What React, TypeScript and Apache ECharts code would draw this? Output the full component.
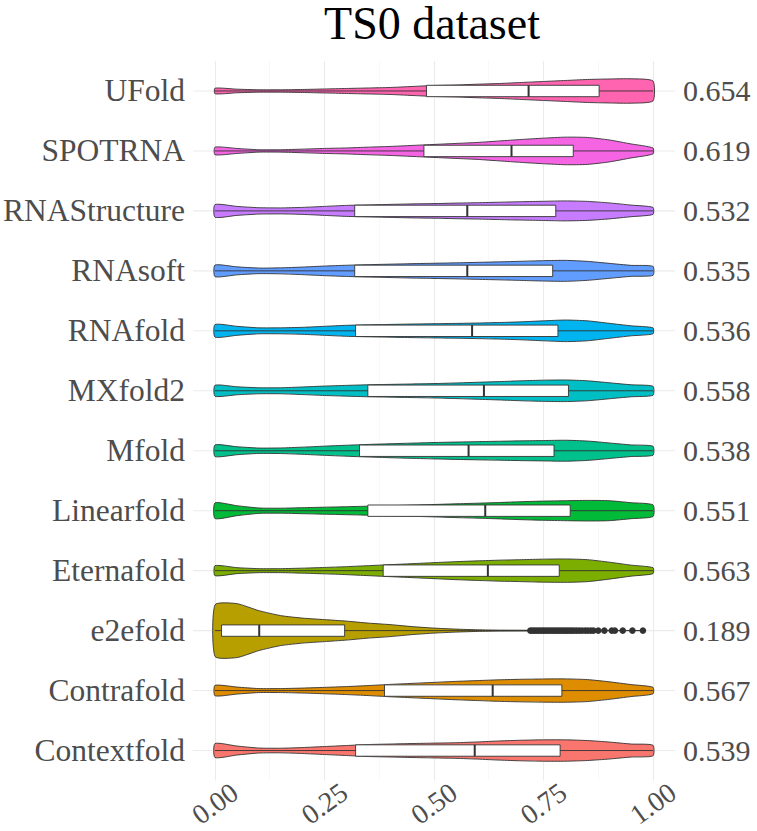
import React, { useEffect, useRef } from 'react';
import * as echarts from 'echarts';

// bottom-to-top order on the category axis
const categories = ['Contextfold', 'Contrafold', 'e2efold', 'Eternafold', 'Linearfold', 'Mfold', 'MXfold2', 'RNAfold', 'RNAsoft', 'RNAStructure', 'SPOTRNA', 'UFold'];
const meanScores = [0.539, 0.567, 0.189, 0.563, 0.551, 0.538, 0.558, 0.536, 0.535, 0.532, 0.619, 0.654];
const colors = ['#F8766D', '#DE8C00', '#B79F00', '#7CAE00', '#00BA38', '#00C08B', '#00BFC4', '#00B4F0', '#619CFF', '#C77CFF', '#F564E3', '#FF64B0'];

const q1 = [0.321, 0.387, 0.015, 0.384, 0.349, 0.330, 0.349, 0.321, 0.319, 0.319, 0.477, 0.483];
const median = [0.593, 0.634, 0.101, 0.623, 0.617, 0.579, 0.614, 0.587, 0.576, 0.576, 0.677, 0.716];
const q3 = [0.788, 0.792, 0.296, 0.786, 0.811, 0.774, 0.807, 0.783, 0.771, 0.778, 0.818, 0.877];
const whiskerLow = [0, 0, 0, 0, 0, 0, 0, 0, 0, 0, 0, 0];
const whiskerHigh = [1, 1, 0.718, 1, 1, 1, 1, 1, 1, 1, 1, 1];
const dataMin = [0, 0, 0, 0, 0, 0, 0, 0, 0, 0, 0, 0];
const dataMax = [1, 1, 0.977, 1, 1, 1, 1, 1, 1, 1, 1, 1];

// relative density (violin half-width) sampled at densityX
const densityX = [0, 0.05, 0.1, 0.15, 0.2, 0.25, 0.3, 0.35, 0.4, 0.45, 0.5, 0.55, 0.6, 0.65, 0.7, 0.75, 0.8, 0.85, 0.9, 0.95, 1.0];
const densContextfold = [7, 4.5, 2.5, 2.3, 3, 4, 5, 6, 6.5, 7, 7.4, 7.8, 8.6, 9.6, 10.3, 10.7, 10.7, 10, 8.5, 6.5, 5.3];
const densContrafold = [5.2, 3.5, 2, 2, 2.5, 3.2, 4, 5, 6.2, 7.2, 8.2, 9.2, 10, 10.8, 11.3, 11.6, 11.7, 11, 8.8, 6, 3.3];
const densE2efold = [25.8, 27, 20, 15, 12.5, 11, 9.5, 7.5, 6, 4, 2.5, 1.5, 0.8, 0.5, 0.4, 0.3, 0.3, 0.2, 0.2, 0.1, 0.1];
const densEternafold = [5, 3, 2, 2, 2.5, 3.2, 4, 5, 6, 7, 8, 9, 9.8, 10.5, 11, 11.5, 11.7, 11, 8.5, 5.5, 3];
const densLinearfold = [7.8, 5, 2.7, 2.5, 3, 3.5, 4, 4.5, 5, 5.6, 6.2, 6.9, 7.5, 8.2, 9, 9.6, 10, 10.3, 10, 8, 5.8];
const densMfold = [5.8, 4, 2.7, 2.8, 3.6, 4.6, 5.5, 6.3, 7, 7.6, 8.2, 8.7, 9.1, 9.5, 9.9, 10.2, 10.5, 9.7, 7.8, 5.8, 4.5];
const densMXfold2 = [5.5, 4, 3, 3, 3.8, 4.7, 5.4, 6, 6.4, 6.8, 7.2, 7.8, 8.5, 9.2, 10, 10.6, 10.8, 10, 8, 6, 4.5];
const densRNAfold = [6.3, 4.5, 3, 3, 3.5, 4.5, 5.5, 6, 6.4, 6.8, 7.1, 7.4, 7.8, 8.3, 9, 10, 10.8, 10, 7.5, 5, 3];
const densRNAsoft = [5.8, 4, 2.8, 3, 3.8, 4.8, 5.6, 6.2, 6.7, 7.2, 7.6, 8, 8.5, 9, 9.6, 10.2, 10.5, 9.5, 7.5, 5.5, 4.5];
const densRNAStructure = [6.3, 4.5, 3.2, 3, 3.5, 4.5, 5.5, 6, 6.5, 7, 7.3, 7.8, 8.2, 8.7, 9.2, 9.6, 10, 9.5, 8, 5.8, 3.5];
const densSPOTRNA = [3.8, 2.5, 1.2, 1.2, 1.8, 2.5, 3, 3.8, 4.5, 5.5, 6.5, 7.5, 8.5, 10, 11.5, 12.8, 13.8, 13.5, 11, 7, 3];
const densUFold = [2.8, 1.8, 1.2, 1.2, 1.5, 2, 2.5, 3, 3.5, 4.5, 5.5, 6, 6.8, 7.5, 8.5, 9.5, 10.5, 11.5, 12, 12.2, 10];
const densities = [densContextfold, densContrafold, densE2efold, densEternafold, densLinearfold, densMfold, densMXfold2, densRNAfold, densRNAsoft, densRNAStructure, densSPOTRNA, densUFold];

const e2efoldOutliers = [0.72, 0.725, 0.73, 0.735, 0.74, 0.745, 0.75, 0.755, 0.76, 0.765, 0.77, 0.775, 0.78, 0.785, 0.79, 0.795, 0.8, 0.805, 0.81, 0.815, 0.82, 0.826, 0.832, 0.838, 0.845, 0.851, 0.858, 0.864, 0.875, 0.889, 0.906, 0.913, 0.931, 0.953, 0.977];
const outlierCategory = 2;

const panelRange = [-0.05, 1.05];

const SERIF = 'Liberation Serif';
const OUTLINE = '#333333';

export default function App() {
  const ref = useRef<HTMLDivElement>(null);
  useEffect(() => {
    if (!ref.current) return;
    const chart = echarts.init(ref.current, null, { renderer: 'svg' });
    let maxDensity = 0;
    densities.forEach((d) => d.forEach((v) => { if (v > maxDensity) maxDensity = v; }));

    const option: any = {
      animation: false,
      backgroundColor: '#ffffff',
      textStyle: { fontFamily: SERIF },
      title: {
        text: 'TS0 dataset',
        left: 432,
        textAlign: 'center',
        top: 0,
        padding: 0,
        textStyle: { fontFamily: SERIF, fontSize: 46, fontWeight: 'normal', color: '#000000' },
      },
      grid: { left: 214, right: 104, top: 61, height: 727, containLabel: false },
      xAxis: {
        type: 'value',
        min: 0,
        max: 1,
        interval: 0.25,
        axisLine: { show: false },
        axisTick: { show: false },
        splitLine: { show: true, lineStyle: { color: '#ebebeb', width: 1.1 } },
        minorTick: { show: false, splitNumber: 2 },
        minorSplitLine: { show: true, lineStyle: { color: '#f3f3f3', width: 0.6 } },
        axisLabel: {
          formatter: (v: number) => v.toFixed(2),
          rotate: 36,
          align: 'center',
          verticalAlign: 'middle',
          margin: 23,
          fontFamily: SERIF,
          fontSize: 28,
          color: '#4d4d4d',
        },
      },
      yAxis: [
        {
          type: 'category',
          data: categories,
          axisLine: { show: false },
          axisTick: { show: false },
          splitLine: { show: false },
          axisLabel: { fontFamily: SERIF, fontSize: 31.5, color: '#4d4d4d', margin: 30 },
        },
        {
          type: 'category',
          position: 'right',
          data: meanScores.map((v) => v.toFixed(3)),
          axisLine: { show: false },
          axisTick: { show: false },
          splitLine: { show: false },
          axisLabel: { fontFamily: SERIF, fontSize: 30, color: '#4d4d4d', margin: 30 },
        },
      ],
      series: [
        {
          type: 'custom',
          name: 'grid',
          clip: false,
          silent: true,
          z: 1,
          encode: { x: 0, y: 1 },
          data: categories.map((c, i) => [0.5, i]),
          renderItem: (params: any, api: any) => {
            const i = api.value(1);
            const a = api.coord([panelRange[0], i]);
            const b = api.coord([panelRange[1], i]);
            return {
              type: 'line',
              shape: { x1: a[0], y1: a[1], x2: b[0], y2: b[1] },
              style: { stroke: '#ebebeb', lineWidth: 1.1 },
            };
          },
        },
        {
          type: 'custom',
          name: 'violins',
          clip: false,
          silent: true,
          z: 2,
          encode: { x: 0, y: 1 },
          data: categories.map((c, i) => [0.5, i]),
          renderItem: (params: any, api: any) => {
            const i = api.value(1);
            const band = api.size([0, 1])[1];
            const scale = (0.45 / maxDensity) * band;
            const dens = densities[i];
            const top: number[][] = [];
            const bottom: number[][] = [];
            densityX.forEach((x, k) => {
              const xc = Math.max(dataMin[i], Math.min(x, dataMax[i]));
              const p = api.coord([xc, i]);
              const hw = dens[k] * scale;
              top.push([p[0], p[1] - hw]);
              bottom.push([p[0], p[1] + hw]);
            });
            const points = top.concat(bottom.reverse());
            const c = api.coord([0, i]);
            const cy = c[1];
            const bh = band * 0.095;
            const pLow = api.coord([whiskerLow[i], i]);
            const pHigh = api.coord([whiskerHigh[i], i]);
            const pQ1 = api.coord([q1[i], i]);
            const pQ3 = api.coord([q3[i], i]);
            const pMed = api.coord([median[i], i]);
            const children: any[] = [
              {
                type: 'polygon',
                shape: { points, smooth: 0.2 },
                style: { fill: colors[i], stroke: OUTLINE, lineWidth: 0.9 },
              },
              {
                type: 'line',
                shape: { x1: pLow[0], y1: cy, x2: pHigh[0], y2: cy },
                style: { stroke: OUTLINE, lineWidth: 0.9 },
              },
              {
                type: 'rect',
                shape: { x: pQ1[0], y: cy - bh, width: pQ3[0] - pQ1[0], height: bh * 2 },
                style: { fill: '#ffffff', stroke: OUTLINE, lineWidth: 0.9 },
              },
              {
                type: 'line',
                shape: { x1: pMed[0], y1: cy - bh, x2: pMed[0], y2: cy + bh },
                style: { stroke: OUTLINE, lineWidth: 2 },
              },
            ];
            if (i === outlierCategory) {
              e2efoldOutliers.forEach((v) => {
                const p = api.coord([v, i]);
                children.push({
                  type: 'circle',
                  shape: { cx: p[0], cy: p[1], r: 3.3 },
                  style: { fill: OUTLINE },
                });
              });
            }
            return { type: 'group', children };
          },
        },
      ],
    };
    chart.setOption(option);
    return () => chart.dispose();
  }, []);
  return <div ref={ref} style={{ position: 'fixed', left: 0, top: 0, width: 757, height: 831, background: '#fff' }} />;
}
